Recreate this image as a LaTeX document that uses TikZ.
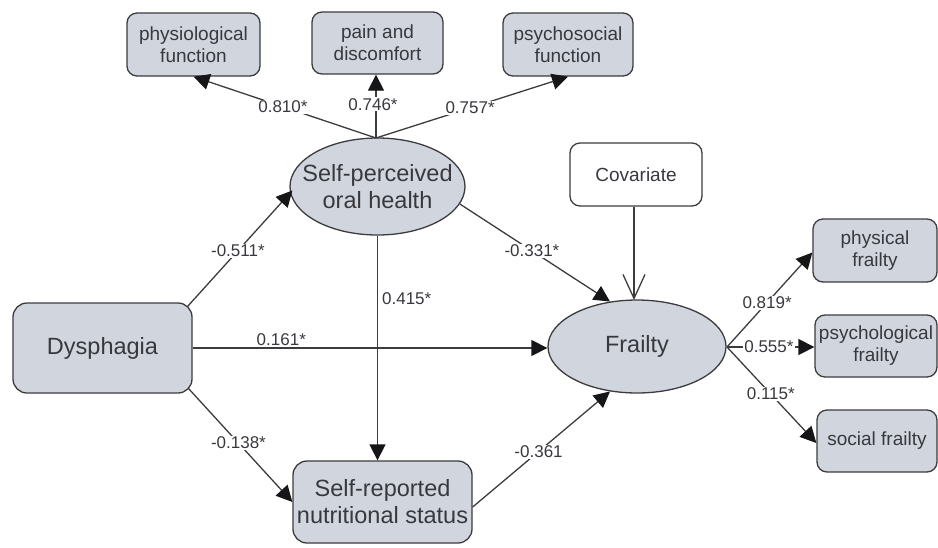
\documentclass[tikz,border=0pt]{standalone}
\usepackage{fontspec}
\setmainfont{Liberation Sans}
\usetikzlibrary{arrows.meta,shapes.geometric,calc}
\definecolor{boxfill}{RGB}{209,213,221}
\definecolor{ink}{RGB}{60,60,63}
\definecolor{tip}{RGB}{22,22,24}
\definecolor{txt}{RGB}{55,57,62}
\begin{document}
\begin{tikzpicture}[x=1pt,y=-1pt,
  every node/.style={text=txt},
  smallbox/.style={draw=ink,line width=1.3pt,fill=boxfill,rounded corners=10pt,
    align=center,font=\fontsize{19}{22}\selectfont,inner sep=0pt},
  bigbox/.style={draw=ink,line width=1.3pt,fill=boxfill,rounded corners=14pt,
    align=center,font=\fontsize{23.5}{27}\selectfont,inner sep=0pt},
  latent/.style={draw=ink,line width=1.3pt,fill=boxfill,ellipse,inner sep=0pt},
  bigtext/.style={align=center,font=\fontsize{23.5}{27}\selectfont,inner sep=0pt},
  path/.style={draw=ink,line width=1.3pt,-{Triangle[length=16pt,width=16pt,color=tip]}},
  coef/.style={fill=white,inner sep=1pt,font=\fontsize{17}{19}\selectfont}
]
\useasboundingbox (0,0) rectangle (938,547);
% indicators of oral health
\node[smallbox,minimum width=133pt,minimum height=63pt] (phys) at (193.5,44.5) {physiological\\function};
\node[smallbox,minimum width=131pt,minimum height=62pt] (pain) at (377.5,43) {pain and\\discomfort};
\node[smallbox,minimum width=130pt,minimum height=63pt] (psys) at (568,44.5) {psychosocial\\function};
% main nodes
\node[latent,minimum width=175pt,minimum height=97pt] (spoh) at (377.5,186.5) {};
\node[bigtext] (spohtxt) at (spoh.center) {Self-perceived\\oral health};
\node[bigbox,minimum width=179pt,minimum height=90pt] (dys) at (102.5,348) {Dysphagia};
\node[bigbox,minimum width=179pt,minimum height=82pt] (nut) at (382.5,502) {Self-reported\\nutritional status};
\node[smallbox,fill=white,minimum width=132pt,minimum height=63pt] (cov) at (636,174.5) {Covariate};
\node[latent,minimum width=178pt,minimum height=93pt] (fra) at (637,346.5) {};
\node[bigtext] (fratxt) at (fra.center) {Frailty};
% frailty indicators
\node[smallbox,minimum width=124pt,minimum height=63pt] (pf) at (875,250.5) {physical\\frailty};
\node[smallbox,minimum width=122pt,minimum height=62pt] (psf) at (876,346) {psychological\\frailty};
\node[smallbox,minimum width=120pt,minimum height=62pt] (sf) at (877,441) {social frailty};
% helper coordinates
\coordinate (ohtop) at (376,138);
\coordinate (frr) at (727,347);
\coordinate (covend) at (634,300);
% oral health loadings
\draw[path] (ohtop) -- node[coef,pos=0.51] {0.810*} (phys.south);
\draw[path] (ohtop) -- node[coef,pos=0.53,xshift=-3pt] {0.746*} (ohtop |- pain.south);
\draw[path] (ohtop) -- node[coef,pos=0.49] {0.757*} (psys.south);
% structural paths
\draw[path] ($(dys.north east)+(-5,4)$) -- node[coef,pos=0.48] {-0.511*} ($(spoh.west)+(3,4)$);
\draw[path] (dys.east) -- node[pos=0.25,above=1pt,inner sep=1pt,font=\fontsize{17}{19}\selectfont] {0.161*} (dys.east -| fra.west);
\draw[path] ($(dys.south east)+(-4,-5)$) -- node[coef,pos=0.48] {-0.138*} (nut.west);
\draw[path] (spoh.south) -- node[pos=0.28,right=3pt,inner sep=1pt,font=\fontsize{17}{19}\selectfont] {0.415*} (spoh.south |- nut.north);
\draw[path] (spoh.-12) -- node[coef,pos=0.48] {-0.331*} (fra.121);
\draw[path] ($(nut.east)+(0,5)$) -- node[coef,pos=0.48] {-0.361} (fra.239);
\draw[draw=ink,line width=1.3pt,-{Straight Barb[length=24pt,width=22pt,line width=1.3pt]}] (cov.south -| covend) -- (covend);
% frailty loadings
\draw[path] (frr) -- node[coef,pos=0.47] {0.819*} ($(pf.west)+(0,2)$);
\draw[path] (frr) -- node[coef,pos=0.48] {0.555*} (frr -| psf.west);
\draw[path] (frr) -- node[coef,pos=0.49] {0.115*} ($(sf.west)+(0,2)$);
\end{tikzpicture}
\end{document}
